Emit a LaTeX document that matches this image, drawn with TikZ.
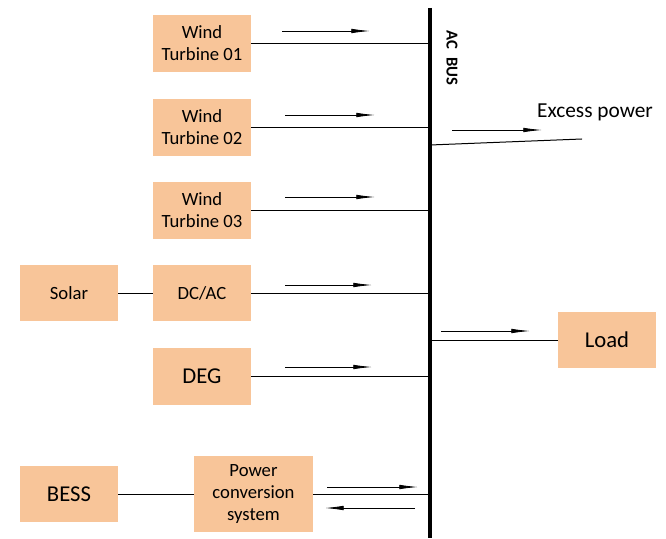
\documentclass[tikz,border=0pt]{standalone}
\usepackage{fontspec}
\setmainfont{Carlito}
\usetikzlibrary{arrows.meta,positioning}
\definecolor{boxfill}{RGB}{248,197,153}
\tikzset{
  unit/.style={fill=boxfill,minimum width=73.5pt,minimum height=42.5pt,inner sep=1pt,align=center,font=\fontsize{14}{16.5}\selectfont},
  bigunit/.style={unit,font=\fontsize{17}{19}\selectfont},
  link/.style={line width=0.75pt},
  flow/.style={line width=0.6pt,-{Latex[length=14pt,width=3.4pt]}},
  busline/.style={line width=3pt}
}
\begin{document}
\begin{tikzpicture}[x=0.75pt,y=-0.75pt]
  \useasboundingbox (0,0) rectangle (666,538);
  % bus bar
  \coordinate (bustop) at (430,8);
  \coordinate (busbot) at (430,538);
  \draw[busline] (bustop) -- (busbot);
  \node[rotate=-90,font=\bfseries\fontsize{12.5}{14}\selectfont] (buslbl) at (452,58) {AC\ \ BUS};
  % sources
  \node[unit] (wt1) at (202,43.5) {Wind\\Turbine 01};
  \node[unit] (wt2) at (202,127.5) {Wind\\Turbine 02};
  \node[unit] (wt3) at (202,210.5) {Wind\\Turbine 03};
  \node[unit] (solar) at (69,293) {Solar};
  \node[unit] (inv) at (202,293) {DC/AC};
  \node[bigunit] (deg) at (202,376.5) {DEG};
  \node[bigunit] (bess) at (69,494) {BESS};
  \node[unit,minimum width=89pt,minimum height=57pt] (pcs) at (253.5,494) {Power\\conversion\\system};
  \node[bigunit] (load) at (607,340) {Load};
  % connections to the bus
  \foreach \n in {wt1,wt2,wt3,inv,deg,pcs}
    \draw[link] (\n.east) -- (\n.east -| bustop);
  \draw[link] (solar) -- (inv);
  \draw[link] (bess) -- (pcs);
  \draw[link] (load.west) -- (load.west -| bustop);
  % excess power
  \coordinate (excess) at (582,139);
  \draw[link] (430,145) -- (excess);
  \node[font=\fontsize{16}{18}\selectfont] (excesslbl) at (595,112) {Excess power};
  % power flow arrows
  \foreach \y/\a/\b in {31/282/370,115/285/375,197/285/375,285/285/372,367/285/372,487/327/418,130/452/542,331/441/530}
    \draw[flow] (\a,\y) -- (\b,\y);
  \draw[flow] (415,508) -- (325,508);
\end{tikzpicture}
\end{document}
